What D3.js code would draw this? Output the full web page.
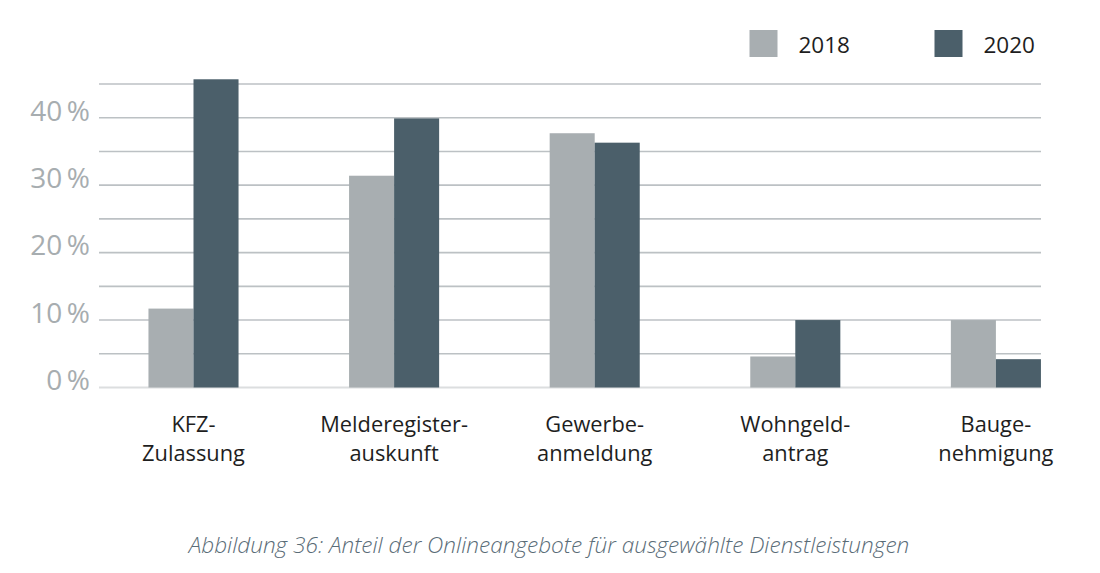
<!DOCTYPE html>
<html><head><meta charset="utf-8">
<script src="https://cdn.jsdelivr.net/npm/d3@7"></script>
<style>body{margin:0;background:#fff;}svg{display:block;}</style>
</head><body>
<script>
const categories = [["KFZ-","Zulassung"],["Melderegister-","auskunft"],["Gewerbe-","anmeldung"],["Wohngeld-","antrag"],["Bauge-","nehmigung"]];
const seriesNames = ["2018","2020"];
const values2018 = [11.7, 31.4, 37.7, 4.6, 10.0];
const values2020 = [45.7, 39.9, 36.3, 10.0, 4.2];
const tickValues = [0,10,20,30,40];
const tickLabels = ["0\u2009%","10\u2009%","20\u2009%","30\u2009%","40\u2009%"];
const gridValues = [5,10,15,20,25,30,35,40,45];
const caption = "Abbildung 36: Anteil der Onlineangebote für ausgewählte Dienstleistungen";
const colors = ["#a8aeb1","#4b5f6a"];

const W=1100,H=573;
const svg=d3.select("body").append("svg").attr("width",W).attr("height",H);
const font="'Open Sans', sans-serif";

const y=d3.scaleLinear().domain([0,45]).range([387.5,84]);
const x=d3.scaleBand().domain(d3.range(categories.length)).range([93.2,1096.2]).paddingInner(0.551).paddingOuter(0.2755);
const xs=d3.scaleBand().domain([0,1]).range([0,x.bandwidth()]);
const gridX0=99, gridX1=1041;

// grid
svg.append("g").selectAll("line").data(gridValues).join("line")
  .attr("x1",gridX0).attr("x2",gridX1).attr("y1",d=>y(d)).attr("y2",d=>y(d))
  .attr("stroke","#bcc1c4").attr("stroke-width",1.6);
// baseline
svg.append("line").attr("x1",gridX0).attr("x2",gridX1).attr("y1",y(0)).attr("y2",y(0))
  .attr("stroke","#dcdedf").attr("stroke-width",2);

// bars
const data=categories.map((c,i)=>[values2018[i],values2020[i]]);
const g=svg.append("g");
data.forEach((vals,i)=>{
  g.selectAll(null).data(vals).join("rect")
   .attr("x",(d,j)=>x(i)+xs(j)).attr("width",xs.bandwidth())
   .attr("y",d=>y(d)).attr("height",d=>y(0)-y(d))
   .attr("fill",(d,j)=>colors[j]);
});

// y labels
svg.append("g").selectAll("text").data(tickValues).join("text")
  .attr("x",90).attr("y",d=>y(d)-7).attr("dy","0.35em")
  .attr("text-anchor","end").attr("font-family",font).attr("font-size",28)
  .attr("fill","#a7adb0").text((d,i)=>tickLabels[i]);

// x labels
const xl=svg.append("g").selectAll("text").data(categories).join("text")
  .attr("text-anchor","middle").attr("font-family",font).attr("font-size",21.8)
  .attr("fill","#1e1e1e");
xl.each(function(c,i){
  const t=d3.select(this);
  c.forEach((line,k)=>{
    t.append("tspan").attr("x",x(i)+x.bandwidth()/2).attr("y",432+k*28.5).text(line);
  });
});

// legend
const lg=svg.append("g");
const legX=[749.5,934.5];
seriesNames.forEach((s,i)=>{
  lg.append("rect").attr("x",legX[i]).attr("y",30).attr("width",28).attr("height",27).attr("fill",colors[i]);
  lg.append("text").attr("x",legX[i]+49).attr("y",52.5).attr("font-family",font).attr("font-size",22.5)
    .attr("fill","#1e1e1e").text(s);
});

// caption
svg.append("text").attr("x",549).attr("y",553).attr("text-anchor","middle")
  .attr("font-family",font).attr("font-style","italic").attr("font-weight",300).attr("font-size",22.6)
  .attr("fill","#5a6c77").text(caption);
</script>
</body></html>
